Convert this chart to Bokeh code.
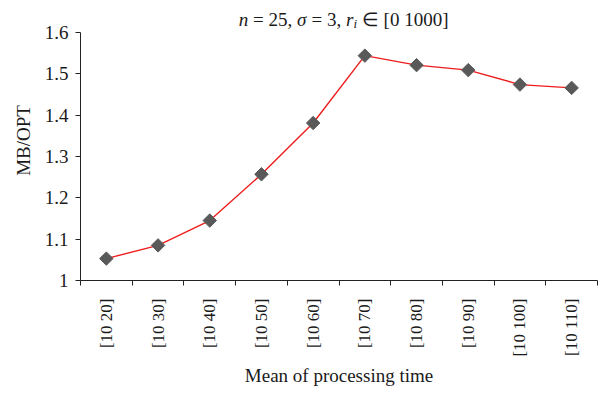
import numpy as np
from bokeh.plotting import figure
from bokeh.models import Range1d, FixedTicker, NumeralTickFormatter, CustomJSTickFormatter, ColumnDataSource
from bokeh.core.properties import value
from bokeh.embed import file_html
from bokeh.resources import INLINE

categories = ["[10 20]", "[10 30]", "[10 40]", "[10 50]", "[10 60]",
              "[10 70]", "[10 80]", "[10 90]", "[10 100]", "[10 110]"]
ratio = [1.053, 1.085, 1.145, 1.257, 1.381, 1.544, 1.521, 1.509, 1.474, 1.466]
y_ticks = [1.0, 1.1, 1.2, 1.3, 1.4, 1.5, 1.6]
x_label = "Mean of processing time"
y_label = "MB/OPT"
NB = "\u00a0"
title_parts = ["n", NB + "=" + NB + "25," + NB, "σ", NB + "=" + NB + "3," + NB, "r", "i",
               NB + "∈" + NB + "[0 1000]"]
title_styles = ["italic", "normal", "italic", "normal", "italic", "italic", "normal"]

FONT = "Liberation Serif"
TXT = "#1a1a1a"
W_FIG, H_FIG = 600, 390
LEFT, BOTTOM = 80, 110
AXIS_TOP_PX = 32          # page y of the 1.6 tick
FRAME_H = H_FIG - BOTTOM  # frame spans from page top to the x axis
FRAME_W = 597 - LEFT

n = len(categories)
xs = [i + 0.5 for i in range(n)]
px_per_y = (FRAME_H - AXIS_TOP_PX) / (y_ticks[-1] - y_ticks[0])
y_top = y_ticks[-1] + AXIS_TOP_PX / px_per_y
px_per_x = FRAME_W / n

p = figure(width=W_FIG, height=H_FIG, output_backend="svg", toolbar_location=None,
           x_range=Range1d(0, n), y_range=Range1d(y_ticks[0], y_top),
           min_border_left=LEFT, min_border_right=W_FIG - 597, min_border_top=0,
           min_border_bottom=BOTTOM)
p.xgrid.visible = False
p.ygrid.visible = False
p.outline_line_color = None
p.background_fill_color = "white"
p.border_fill_color = "white"

p.line(xs, ratio, line_color="#ee1c1c", line_width=1.4)
p.scatter(xs, ratio, marker="square", size=9.5, angle=np.pi / 4,
          fill_color="#595959", line_color="#595959")

# x axis
xa = p.xaxis[0]
xa.ticker = FixedTicker(ticks=xs, minor_ticks=list(range(n + 1)))
xa.formatter = CustomJSTickFormatter(args=dict(labels=categories),
                                     code="return labels[Math.floor(tick)];")
xa.major_tick_line_color = None
xa.major_tick_out = 0
xa.major_tick_in = 0
xa.minor_tick_out = 5
xa.minor_tick_in = 0
xa.minor_tick_line_color = "#222222"
xa.axis_line_color = "#222222"
xa.major_label_orientation = np.pi / 2
xa.major_label_standoff = 13
xa.major_label_text_font = FONT
xa.major_label_text_font_size = "17px"
xa.major_label_text_color = TXT
xa.axis_label = x_label
xa.axis_label_text_font = FONT
xa.axis_label_text_font_size = "19px"
xa.axis_label_text_font_style = "normal"
xa.axis_label_text_color = TXT
xa.axis_label_standoff = 5

# y axis (line limited to the 1 .. 1.6 span)
ya = p.yaxis[0]
ya.ticker = FixedTicker(ticks=y_ticks)
ya.bounds = (y_ticks[0], y_ticks[-1])
ya.formatter = NumeralTickFormatter(format="0.[0]")
ya.minor_tick_line_color = None
ya.major_tick_out = 5
ya.major_tick_in = 0
ya.major_tick_line_color = "#222222"
ya.axis_line_color = "#222222"
ya.major_label_standoff = 7
ya.major_label_text_font = FONT
ya.major_label_text_font_size = "19px"
ya.major_label_text_color = TXT
ya.axis_label = y_label
ya.axis_label_text_font = FONT
ya.axis_label_text_font_size = "19px"
ya.axis_label_text_font_style = "normal"
ya.axis_label_text_color = TXT
ya.axis_label_standoff = 8

# title: italic / roman pieces laid out in a row
fs, sub_fs = 19.0, 13.0
W = {"n": .5, NB: .25, " ": .25, "=": .564, "2": .5, "5": .5, ",": .25, "3": .5,
     "0": .5, "1": .5, "[": .333, "]": .333, "σ": .52, "r": .389, "i": .278, "∈": .67}
sizes = [sub_fs if (t == "i") else fs for t in title_parts]
drops = [4 if (t == "i") else 0 for t in title_parts]
widths = [sum(W.get(c, .5) for c in t) * s for t, s in zip(title_parts, sizes)]
cur = 341 - LEFT - sum(widths) / 2
tx = []
for w in widths:
    tx.append(cur / px_per_x)
    cur += w
base = y_ticks[-1] + (AXIS_TOP_PX - 19) / px_per_y
ty = [base - d / px_per_y for d in drops]
src = ColumnDataSource(dict(x=tx, y=ty, text=title_parts, style=title_styles,
                            size=[f"{s}px" for s in sizes]))
p.text(x="x", y="y", text="text", source=src, text_font=value(FONT),
       text_font_style="style", text_font_size="size", text_color=TXT,
       text_baseline="alphabetic", text_align="left")

open("out.html", "w").write(file_html(p, INLINE))
